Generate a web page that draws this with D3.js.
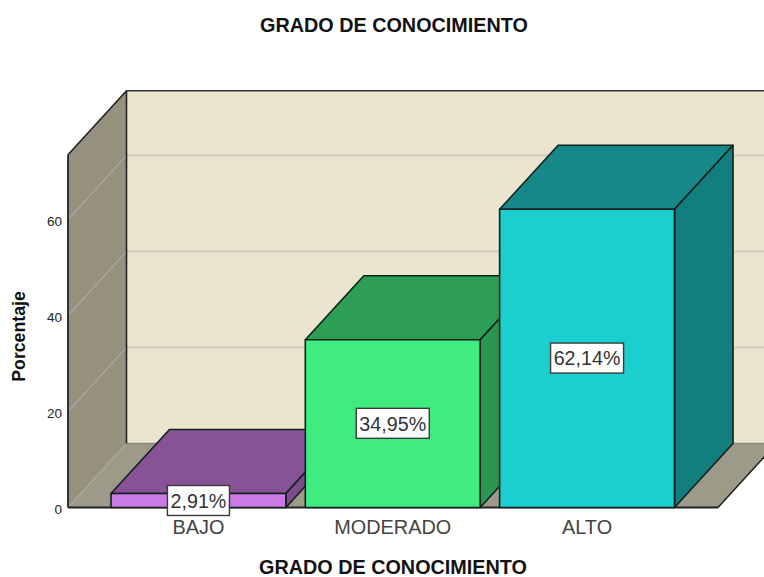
<!DOCTYPE html>
<html><head><meta charset="utf-8">
<script src="https://cdn.jsdelivr.net/npm/d3@7"></script>
<style>html,body{margin:0;padding:0;background:#fff}svg{display:block}text{font-family:"Liberation Sans",Arial,sans-serif}</style>
</head><body><svg id="c" width="764" height="577"></svg>
<script>
const categories = ["BAJO","MODERADO","ALTO"];
const values = [2.91,34.95,62.14];
const valueLabels = ["2,91%","34,95%","62,14%"];
const yTicks = [0,20,40,60];
const frontColors = ["#C97BE3","#40EC7F","#1CCFCF"];
const topColors = ["#875395","#2C9F55","#178888"];
const sideColors = ["#7D4C8C","#2A9650","#127E7E"];
const titleText = "GRADO DE CONOCIMIENTO";
const yTitle = "Porcentaje";

const W=764,H=577, dx=58.5, dy=-64;
const svg=d3.select("#c");
const y=d3.scaleLinear().domain([0,60]).range([507.5,219.5]);
const yMax=73.5;
const xL=68, xR=718;
const x=d3.scaleBand().domain(categories).range([100.5,685]).paddingInner(0.1).paddingOuter(0.054);
const poly=(pts,fill,stroke,sw)=>svg.append("polygon").attr("points",pts.map(p=>p.join(",")).join(" ")).attr("fill",fill).attr("stroke",stroke||"none").attr("stroke-width",sw||0).attr("stroke-linejoin","round");
const line=(a,b,c,w)=>svg.append("line").attr("x1",a[0]).attr("y1",a[1]).attr("x2",b[0]).attr("y2",b[1]).attr("stroke",c).attr("stroke-width",w);

// back wall, left wall, floor
poly([[xL+dx,y(yMax)+dy],[W+2,y(yMax)+dy],[W+2,y(0)+dy],[xL+dx,y(0)+dy]],"#EBE5D0");
poly([[xL,y(yMax)],[xL+dx,y(yMax)+dy],[xL+dx,y(0)+dy],[xL,y(0)]],"#96917F");
poly([[xL,y(0)],[xR,y(0)],[xR+dx,y(0)+dy],[xL+dx,y(0)+dy]],"#9E9A89");

// gridlines
yTicks.forEach(t=>{
  if(t>0){ line([xL+dx,y(t)+dy],[W,y(t)+dy],"#CFCABF",2);
           line([xL,y(t)],[xL+dx,y(t)+dy],"#ABA79B",1.5); }
});
line([xL,y(0)],[xL+dx,y(0)+dy],"#ABA79B",1.5);
line([xL+dx,y(0)+dy],[W,y(0)+dy],"#8C897C",1.5);

// frame
line([xL+dx,y(yMax)+dy],[W,y(yMax)+dy],"#333",1.6);
line([xL+dx,y(yMax)+dy],[xL+dx,y(0)+dy],"#222",1.6);
line([xL,y(yMax)],[xL+dx,y(yMax)+dy],"#222",1.6);
line([xL,y(yMax)],[xL,y(0)],"#222",1.8);
line([xL,y(0)],[xR,y(0)],"#222",1.8);
line([xR,y(0)],[xR+dx,y(0)+dy],"#222",1.6);

// bars
const edge="#10201E";
categories.forEach((c,i)=>{
  const l=x(c), r=l+x.bandwidth(), t=y(values[i]), b=y(0);
  poly([[l,t],[r,t],[r+dx,t+dy],[l+dx,t+dy]],topColors[i],edge,1.6);
  poly([[r,t],[r+dx,t+dy],[r+dx,b+dy],[r,b]],sideColors[i],edge,1.6);
  poly([[l,t],[r,t],[r,b],[l,b]],frontColors[i],edge,1.6);
});

// value labels
categories.forEach((c,i)=>{
  const cx=x(c)+x.bandwidth()/2, cy=(y(values[i])+y(0))/2;
  const w=i===0?62:73;
  const yy=Math.round(Math.max(cy,500.5)===500.5?500.5:cy);
  const boxY=(i===0?500.5:cy-0.3);
  svg.append("rect").attr("x",cx-w/2).attr("y",boxY-15).attr("width",w).attr("height",30).attr("fill","#fff").attr("stroke","#3a3a3a").attr("stroke-width",1.4);
  svg.append("text").attr("x",cx).attr("y",boxY+7.2).attr("text-anchor","middle").attr("font-size",19.7).attr("fill","#333").text(valueLabels[i]);
  svg.append("text").attr("x",cx).attr("y",533.5).attr("text-anchor","middle").attr("font-size",19.9).attr("fill","#444").text(c);
});

// y ticks
yTicks.forEach(t=>svg.append("text").attr("x",62).attr("y",y(t)+6).attr("text-anchor","end").attr("font-size",13.5).attr("fill","#222").text(t));

svg.append("text").attr("x",394).attr("y",31.5).attr("text-anchor","middle").attr("font-size",19.8).attr("font-weight","bold").attr("fill","#111").text(titleText);
svg.append("text").attr("x",393).attr("y",574).attr("text-anchor","middle").attr("font-size",19.8).attr("font-weight","bold").attr("fill","#111").text(titleText);
svg.append("text").attr("transform","translate(24.5,336.5) rotate(-90)").attr("text-anchor","middle").attr("font-size",17.7).attr("font-weight","bold").attr("fill","#111").text(yTitle);
</script></body></html>
